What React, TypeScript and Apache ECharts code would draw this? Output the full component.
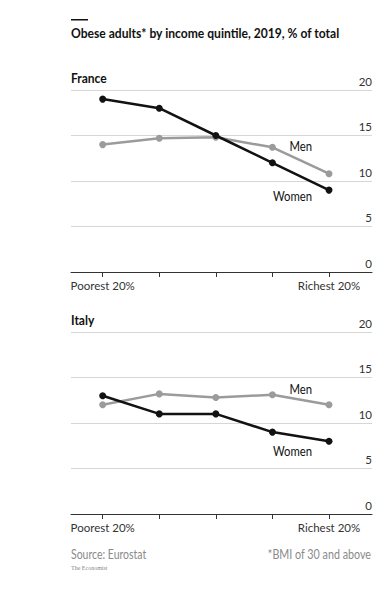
import React, { useEffect, useRef } from "react";
import * as echarts from "echarts";

const quintiles = ["Poorest 20%", "", "", "", "Richest 20%"];
const franceWomen = [19, 18, 15, 12, 9];
const franceMen = [14, 14.7, 14.8, 13.7, 10.8];
const italyWomen = [13, 11, 11, 9, 8];
const italyMen = [12, 13.2, 12.8, 13.1, 12];
const yTicks = [0, 5, 10, 15, 20];

const FONT = "Lato, 'Noto Sans', sans-serif";
const BLACK = "#121212";
const GREY = "#9b9b9b";

export default function App() {
  const ref = useRef<HTMLDivElement>(null);
  useEffect(() => {
    if (!ref.current) return;
    const chart = echarts.init(ref.current, undefined, { renderer: "svg" });
    const toPts = (arr: number[]) => arr.map((v, i) => [i, v]);
    const grids = [
      { left: 71, right: 20, top: 90, height: 182 },
      { left: 71, right: 20, top: 332, height: 182 },
    ];
    const xAxis = grids.map((_, gi) => ({
      type: "value",
      gridIndex: gi,
      min: -0.56,
      max: 4.76,
      splitLine: { show: false },
      axisLine: { show: true, lineStyle: { color: "#333", width: 1 } },
      axisTick: {
        show: true,
        customValues: [0, 1, 2, 3, 4],
        length: 5,
        lineStyle: { color: "#333", width: 1 },
      },
      axisLabel: {
        show: true,
        customValues: [0, 4],
        formatter: (v: number) => quintiles[Math.round(v)] || "",
        fontFamily: FONT,
        fontSize: 11.5,
        color: "#333",
        margin: 7,
      },
    }));
    const yAxis = grids.map((_, gi) => ({
      type: "value",
      gridIndex: gi,
      position: "right",
      min: yTicks[0],
      max: yTicks[yTicks.length - 1],
      interval: 5,
      axisLine: { show: false },
      axisTick: { show: false },
      splitLine: { show: true, lineStyle: { color: "#d6d6d6", width: 1 } },
      axisLabel: {
        inside: true,
        margin: 0,
        verticalAlign: "bottom",
        padding: [0, 0, 3, 0],
        fontFamily: FONT,
        fontSize: 11.5,
        color: "#333",
      },
    }));
    const mk = (name: string, data: number[], color: string, gi: number) => ({
      type: "line",
      name,
      xAxisIndex: gi,
      yAxisIndex: gi,
      data: toPts(data),
      symbol: "circle",
      symbolSize: 7,
      z: color === BLACK ? 3 : 2,
      lineStyle: { color, width: 2.5 },
      itemStyle: { color },
    });
    const txt = (text: string, x: number, y: number, sx: number, extra: any = {}) => ({
      type: "text",
      x,
      y,
      scaleX: sx,
      style: {
        text,
        fontFamily: FONT,
        fontSize: 13,
        fill: "#111",
        textVerticalAlign: "middle",
        ...extra,
      },
    });
    const R = { textAlign: "right" };
    chart.setOption({
      animation: false,
      backgroundColor: "#fff",
      grid: grids,
      xAxis,
      yAxis,
      series: [
        mk("Men", franceMen, GREY, 0),
        mk("Women", franceWomen, BLACK, 0),
        mk("Men", italyMen, GREY, 1),
        mk("Women", italyWomen, BLACK, 1),
      ],
      graphic: [
        { type: "rect", shape: { x: 71, y: 19, width: 17, height: 1.5 }, style: { fill: "#111" } },
        txt("Obese adults* by income quintile, 2019, % of total", 71, 33, 0.865, { fontSize: 14, fontWeight: "bold" }),
        txt("France", 71, 78, 0.86, { fontSize: 14, fontWeight: "bold" }),
        txt("Italy", 71, 320, 0.86, { fontSize: 14, fontWeight: "bold" }),
        txt("Men", 312, 146, 0.87, R),
        txt("Women", 312, 196, 0.87, R),
        txt("Men", 312, 389, 0.87, R),
        txt("Women", 312, 451, 0.87, R),
        txt("Source: Eurostat", 71, 554, 0.84, { fontSize: 12.5, fill: "#8a8a8a" }),
        txt("*BMI of 30 and above", 371, 554, 0.86, { fontSize: 12.5, fill: "#8a8a8a", textAlign: "right" }),
        txt("The Economist", 71, 568, 1, { fontSize: 6, fill: "#888", fontFamily: "'Liberation Serif', serif" }),
      ],
    });
    return () => chart.dispose();
  }, []);
  return <div ref={ref} style={{ width: 392, height: 594, position: "absolute", left: 0, top: 0 }} />;
}
